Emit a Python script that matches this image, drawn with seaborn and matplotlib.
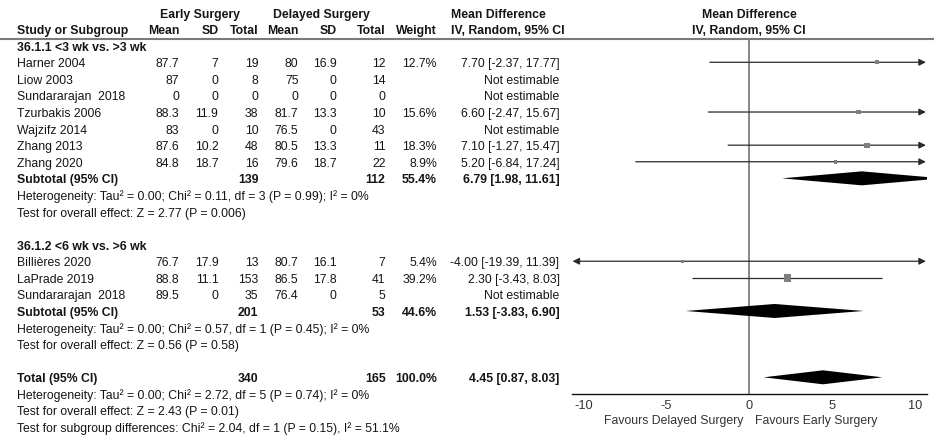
import numpy as np
import pandas as pd
import matplotlib
matplotlib.use("Agg")
import matplotlib.pyplot as plt
import seaborn as sns

# ---------------------------------------------------------------- data
group_names = ["36.1.1 <3 wk vs. >3 wk", "36.1.2 <6 wk vs. >6 wk"]

g1_studies = ["Harner 2004", "Liow 2003", "Sundararajan  2018", "Tzurbakis 2006",
              "Wajzifz 2014", "Zhang 2013", "Zhang 2020"]
g1_early_mean = [87.7, 87, 0, 88.3, 83, 87.6, 84.8]
g1_early_sd = [7, 0, 0, 11.9, 0, 10.2, 18.7]
g1_early_n = [19, 8, 0, 38, 10, 48, 16]
g1_late_mean = [80, 75, 0, 81.7, 76.5, 80.5, 79.6]
g1_late_sd = [16.9, 0, 0, 13.3, 0, 13.3, 18.7]
g1_late_n = [12, 14, 0, 10, 43, 11, 22]
g1_weight = [12.7, None, None, 15.6, None, 18.3, 8.9]
g1_md = [7.70, None, None, 6.60, None, 7.10, 5.20]
g1_lo = [-2.37, None, None, -2.47, None, -1.27, -6.84]
g1_hi = [17.77, None, None, 15.67, None, 15.47, 17.24]

g2_studies = ["Billières 2020", "LaPrade 2019", "Sundararajan  2018"]
g2_early_mean = [76.7, 88.8, 89.5]
g2_early_sd = [17.9, 11.1, 0]
g2_early_n = [13, 153, 35]
g2_late_mean = [80.7, 86.5, 76.4]
g2_late_sd = [16.1, 17.8, 0]
g2_late_n = [7, 41, 5]
g2_weight = [5.4, 39.2, None]
g2_md = [-4.00, 2.30, None]
g2_lo = [-19.39, -3.43, None]
g2_hi = [11.39, 8.03, None]

# pooled results: subgroup 1, subgroup 2, overall
pooled_labels = ["Subtotal (95% CI)", "Subtotal (95% CI)", "Total (95% CI)"]
pooled_early_n = [139, 201, 340]
pooled_late_n = [112, 53, 165]
pooled_weight = [55.4, 44.6, 100.0]
pooled_md = [6.79, 1.53, 4.45]
pooled_lo = [1.98, -3.83, 0.87]
pooled_hi = [11.61, 6.90, 8.03]
heterogeneity = [
    "Heterogeneity: Tau\u00b2 = 0.00; Chi\u00b2 = 0.11, df = 3 (P = 0.99); I\u00b2 = 0%",
    "Heterogeneity: Tau\u00b2 = 0.00; Chi\u00b2 = 0.57, df = 1 (P = 0.45); I\u00b2 = 0%",
    "Heterogeneity: Tau\u00b2 = 0.00; Chi\u00b2 = 2.72, df = 5 (P = 0.74); I\u00b2 = 0%",
]
overall_effect = [
    "Test for overall effect: Z = 2.77 (P = 0.006)",
    "Test for overall effect: Z = 0.56 (P = 0.58)",
    "Test for overall effect: Z = 2.43 (P = 0.01)",
]
subgroup_test = "Test for subgroup differences: Chi\u00b2 = 2.04, df = 1 (P = 0.15), I\u00b2 = 51.1%"

axis_ticks = [-10, -5, 0, 5, 10]
favours_left = "Favours Delayed Surgery"
favours_right = "Favours Early Surgery"

# ---------------------------------------------------------------- style
sns.set_theme(style="white")
plt.rcParams["font.family"] = ["Liberation Sans", "DejaVu Sans"]
FS = 8.85
TXT = "#151515"

W, H = 934, 440
ROW0, PITCH = 47.7, 16.58     # pixel centre of first row, row pitch
MARK_SHIFT = 2.0              # forest marks sit slightly above text centre

fig = plt.figure(figsize=(W / 100, H / 100), dpi=100)

# text table: x in pixels, y in row units
tab = fig.add_axes([0, 0, 1, 1])
tab.set_xlim(0, W)
tab.set_ylim((H - ROW0) / PITCH, -ROW0 / PITCH)
tab.axis("off")

# forest panel: x in mean-difference units, y in row units
XMAX = 10.7
px_left, px_right, px_top, px_bottom = 571.7, 926.7, 39.0, 394.3
ax = fig.add_axes([px_left / W, 1 - px_bottom / H,
                   (px_right - px_left) / W, (px_bottom - px_top) / H])
ax.set_xlim(-XMAX, XMAX)
ax.set_ylim((px_bottom + MARK_SHIFT - ROW0) / PITCH,
            (px_top + MARK_SHIFT - ROW0) / PITCH)
ax.patch.set_alpha(0)
for side in ["top", "left", "right"]:
    ax.spines[side].set_visible(False)
ax.spines["bottom"].set_color("#111111")
ax.spines["bottom"].set_linewidth(1.0)
ax.set_xticks(axis_ticks)
ax.set_xticklabels([f"{t:g}" for t in axis_ticks])
ax.set_yticks([])
ax.tick_params(axis="x", direction="inout", length=6, width=1.0,
               colors="#111111", labelsize=FS + 0.3, pad=1, labelcolor="#333333")
ax.axvline(0, color="#7d7d7d", lw=1.3, zorder=1)


def put(x, k, s, ha="right", bold=False, color=TXT):
    tab.text(x, k, s, ha=ha, va="center", fontsize=FS, color=color,
             fontweight="bold" if bold else "normal")


def num(v):
    return f"{v:g}"


# column right edges (pixels)
COLS = [179.5, 218.5, 258.5, 298.5, 336.5, 385.5, 437.0]
MD_RIGHT = 559.5
LEFT = 17

# header
put(200, -2, "Early Surgery", ha="center", bold=True)
put(321, -2, "Delayed Surgery", ha="center", bold=True)
put(451, -2, "Mean Difference", ha="left", bold=True)
put(749, -2, "Mean Difference", ha="center", bold=True)
put(LEFT, -1, "Study or Subgroup", ha="left", bold=True)
for x, s in zip(COLS, ["Mean", "SD", "Total", "Mean", "SD", "Total", "Weight"]):
    put(x, -1, s, bold=True)
put(451, -1, "IV, Random, 95% CI", ha="left", bold=True)
put(749, -1, "IV, Random, 95% CI", ha="center", bold=True)
tab.plot([0, W], [(39.0 - ROW0) / PITCH] * 2, color="#7a7a7a", lw=1.5)

groups = [
    (g1_studies, g1_early_mean, g1_early_sd, g1_early_n, g1_late_mean,
     g1_late_sd, g1_late_n, g1_weight, g1_md, g1_lo, g1_hi),
    (g2_studies, g2_early_mean, g2_early_sd, g2_early_n, g2_late_mean,
     g2_late_sd, g2_late_n, g2_weight, g2_md, g2_lo, g2_hi),
]

study_rows = []    # for the forest marks
pooled_rows = []

k = 0
for gi, g in enumerate(groups):
    (names, em, esd, en, lm, lsd, ln, wt, md, lo, hi) = g
    put(LEFT, k, group_names[gi], ha="left", bold=True)
    k += 1
    for i, name in enumerate(names):
        put(LEFT, k, name, ha="left")
        for x, v in zip(COLS[:6], [em[i], esd[i], en[i], lm[i], lsd[i], ln[i]]):
            put(x, k, num(v))
        if md[i] is None:
            put(MD_RIGHT, k, "Not estimable")
        else:
            put(COLS[6], k, f"{wt[i]:.1f}%")
            put(MD_RIGHT, k, f"{md[i]:.2f} [{lo[i]:.2f}, {hi[i]:.2f}]")
            study_rows.append(dict(row=k, md=md[i], lo=lo[i], hi=hi[i], weight=wt[i]))
        k += 1
    # subtotal
    put(LEFT, k, pooled_labels[gi], ha="left", bold=True)
    put(COLS[2], k, str(pooled_early_n[gi]), bold=True)
    put(COLS[5], k, str(pooled_late_n[gi]), bold=True)
    put(COLS[6], k, f"{pooled_weight[gi]:.1f}%", bold=True)
    put(MD_RIGHT, k, f"{pooled_md[gi]:.2f} [{pooled_lo[gi]:.2f}, {pooled_hi[gi]:.2f}]", bold=True)
    pooled_rows.append(dict(row=k, md=pooled_md[gi], lo=pooled_lo[gi], hi=pooled_hi[gi]))
    k += 1
    put(LEFT, k, heterogeneity[gi], ha="left")
    k += 1
    put(LEFT, k, overall_effect[gi], ha="left")
    k += 2

# overall total
put(LEFT, k, pooled_labels[2], ha="left", bold=True)
put(COLS[2], k, str(pooled_early_n[2]), bold=True)
put(COLS[5], k, str(pooled_late_n[2]), bold=True)
put(COLS[6], k, f"{pooled_weight[2]:.1f}%", bold=True)
put(MD_RIGHT, k, f"{pooled_md[2]:.2f} [{pooled_lo[2]:.2f}, {pooled_hi[2]:.2f}]", bold=True)
pooled_rows.append(dict(row=k, md=pooled_md[2], lo=pooled_lo[2], hi=pooled_hi[2]))
k += 1
put(LEFT, k, heterogeneity[2], ha="left")
k += 1
put(LEFT, k, overall_effect[2], ha="left")
k += 1
put(LEFT, k, subgroup_test, ha="left")

# favours labels under the axis
fav_k = (420.7 - ROW0) / PITCH
put(743, fav_k, favours_left, color="#333333")
put(755, fav_k, favours_right, ha="left", color="#333333")

# ---------------------------------------------------------------- forest marks
studies = pd.DataFrame(study_rows)
TIP = 10.65
LINE_C = "#2a2a2a"
for r in studies.itertuples():
    left_over, right_over = r.lo < -TIP, r.hi > TIP
    x0, x1 = max(r.lo, -TIP), min(r.hi, TIP)
    if left_over or right_over:
        style = "<|-|>" if (left_over and right_over) else ("-|>" if right_over else "<|-")
        ax.annotate("", xy=(x1, r.row), xytext=(x0, r.row),
                    arrowprops=dict(arrowstyle=style, color=LINE_C, lw=0.9,
                                    mutation_scale=10, shrinkA=0, shrinkB=0))
    else:
        ax.plot([x0, x1], [r.row, r.row], color=LINE_C, lw=0.9, solid_capstyle="butt")

sns.scatterplot(data=studies, x="md", y="row", size="weight", sizes=(0, 78),
                size_norm=(0, 100), marker="s", color="#7f7f7f", linewidth=0,
                legend=False, ax=ax, zorder=4)
ax.set_xlabel("")
ax.set_ylabel("")

HALF = 7.0 / PITCH
for p in pooled_rows:
    ax.fill([p["lo"], p["md"], p["hi"], p["md"]],
            [p["row"], p["row"] - HALF, p["row"], p["row"] + HALF],
            color="black", lw=0, zorder=5)

fig.savefig("out.png", dpi=100)
